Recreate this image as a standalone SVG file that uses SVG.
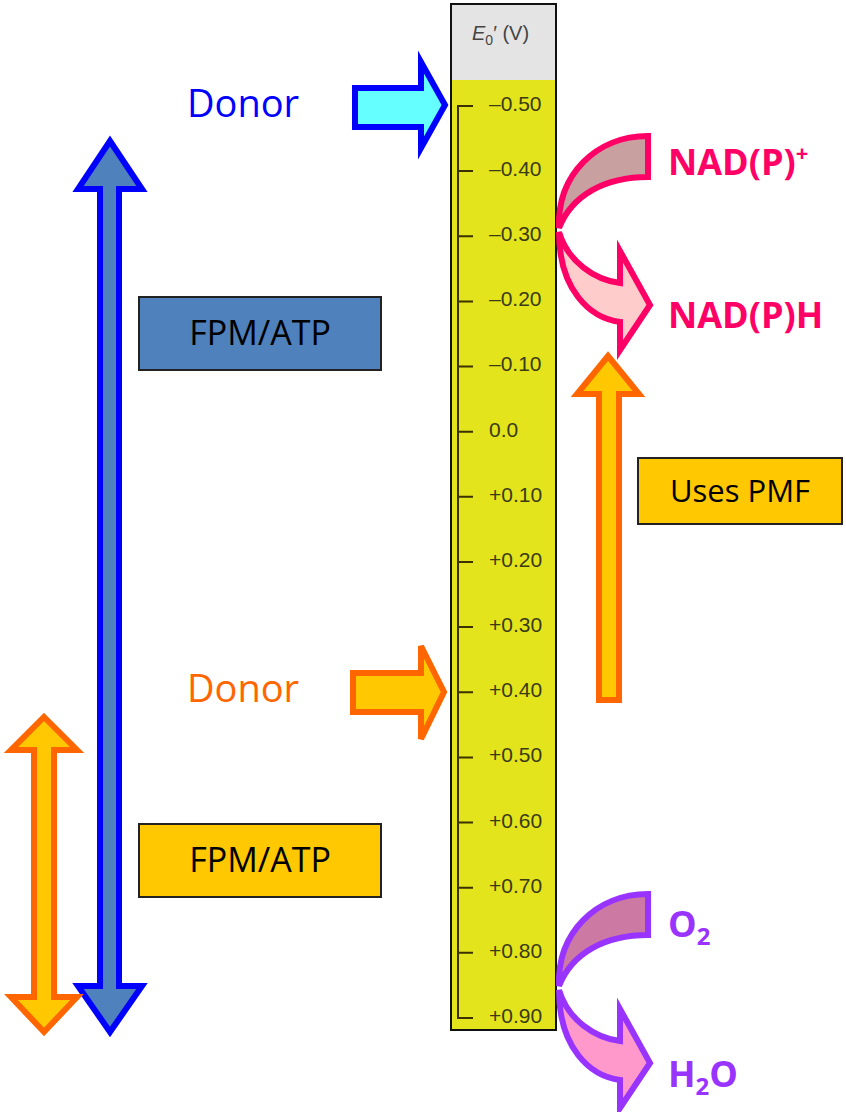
<svg xmlns="http://www.w3.org/2000/svg" width="846" height="1112" viewBox="0 0 846 1112">
<style>
.lbl{font-family:"Liberation Sans",Arial,sans-serif;font-size:21px;fill:#3a3a14}
.box{stroke:#222;stroke-width:2}
.bt{font-family:"Open Sans","Liberation Sans",sans-serif;fill:#000;text-anchor:middle}
.bold{font-family:"Open Sans","Liberation Sans",sans-serif;font-weight:bold;font-size:36px}
.tick{stroke:#3a3000;stroke-width:2;fill:none}
</style>
<rect width="846" height="1112" fill="#fff"/>
<g id="scale">
<rect x="451" y="4" width="105" height="1026" fill="#e4e41c"/>
<rect x="451" y="4" width="105" height="76" fill="#e4e4e4"/>
<rect x="451" y="4" width="105" height="1026" fill="none" stroke="#111" stroke-width="2"/>
<text x="472" y="40" font-family="Liberation Sans,Arial,sans-serif" font-size="20" fill="#444"><tspan font-style="italic">E</tspan><tspan font-size="14" dy="5">0</tspan><tspan dy="-5">′ (V)</tspan></text>
<path class="tick" d="M473,106H458V1018H473M458,171.1H473M458,236.3H473M458,301.4H473M458,366.6H473M458,431.7H473M458,496.8H473M458,562H473M458,627.1H473M458,692.3H473M458,757.4H473M458,822.5H473M458,887.7H473M458,952.8H473"/>
<text class="lbl" x="489" y="111">–0.50</text>
<text class="lbl" x="489" y="176">–0.40</text>
<text class="lbl" x="489" y="241">–0.30</text>
<text class="lbl" x="489" y="306">–0.20</text>
<text class="lbl" x="489" y="371">–0.10</text>
<text class="lbl" x="489" y="437">0.0</text>
<text class="lbl" x="489" y="502">+0.10</text>
<text class="lbl" x="489" y="567">+0.20</text>
<text class="lbl" x="489" y="632">+0.30</text>
<text class="lbl" x="489" y="697">+0.40</text>
<text class="lbl" x="489" y="762">+0.50</text>
<text class="lbl" x="489" y="828">+0.60</text>
<text class="lbl" x="489" y="893">+0.70</text>
<text class="lbl" x="489" y="958">+0.80</text>
<text class="lbl" x="489" y="1023">+0.90</text>
</g>
<g id="donor-blue">
<text x="187" y="117" font-family="Open Sans,Liberation Sans,sans-serif" font-size="38" fill="#0000ff">Donor</text>
<polygon points="355,88 421,88 421,62 445,105 421,148 421,127 355,127" fill="#66ffff" stroke="#0000ff" stroke-width="6"/>
</g>
<g id="donor-orange">
<text x="187" y="702" font-family="Open Sans,Liberation Sans,sans-serif" font-size="38" fill="#ff6600">Donor</text>
<polygon points="353,673 421,673 421,646 444,692 421,739 421,712 353,712" fill="#ffc800" stroke="#ff6600" stroke-width="6"/>
</g>
<g id="blue-range">
<polygon points="110,141 142,189 119,189 119,986 142,986 110,1032 78,986 100,986 100,189 78,189" fill="#4f81bd" stroke="#0000ff" stroke-width="6"/>
</g>
<g id="orange-range">
<polygon points="44,717 77,750 54,750 54,997 77,997 44,1032 11,997 34,997 34,750 11,750" fill="#ffc800" stroke="#ff6600" stroke-width="6"/>
</g>
<g id="fpm-blue">
<rect class="box" x="139" y="297" width="242" height="73" fill="#4f81bd"/>
<text class="bt" x="260" y="345" font-size="34">FPM/ATP</text>
</g>
<g id="fpm-gold">
<rect class="box" x="139" y="824" width="242" height="73" fill="#ffc800"/>
<text class="bt" x="260" y="872" font-size="34">FPM/ATP</text>
</g>
<g id="pmf-arrow">
<polygon points="608,356 639,394 619,394 619,700 599,700 599,394 577,394" fill="#ffc800" stroke="#ff6600" stroke-width="6"/>
</g>
<g id="uses-pmf">
<rect class="box" x="638" y="458" width="204" height="66" fill="#ffc800"/>
<text class="bt" x="740" y="502" font-size="31">Uses PMF</text>
</g>
<g id="nad-arrow" stroke="#ff0066" stroke-width="6" stroke-linejoin="miter">
<path d="M620,322 C590,318 559,290 559,232 C568,262 595,280 620,283 L620,251 L650,305 L620,350 Z" fill="#ffcccc"/>
<path d="M648,136 L648,177 C605,177 572,195 559,228 C557,175 596,136 648,136 Z" fill="#c9a0a0"/>
</g>
<g id="nad-labels" class="bold" fill="#ff0066">
<text x="668" y="175">NAD(P)<tspan font-size="22" dy="-14">+</tspan></text>
<text x="668" y="328">NAD(P)H</text>
</g>
<g id="o2-arrow" stroke="#9933ff" stroke-width="6" transform="translate(0,758)">
<path d="M620,322 C590,318 559,290 559,232 C568,262 595,280 620,283 L620,251 L650,305 L620,350 Z" fill="#ff99cc"/>
<path d="M648,136 L648,177 C605,177 572,195 559,228 C557,175 596,136 648,136 Z" fill="#cc7aa3"/>
</g>
<g id="o2-labels" class="bold" fill="#9933ff">
<text x="668" y="937">O<tspan font-size="24" dy="8">2</tspan></text>
<text x="668" y="1087">H<tspan font-size="24" dy="8">2</tspan><tspan dy="-8">O</tspan></text>
</g>
</svg>
